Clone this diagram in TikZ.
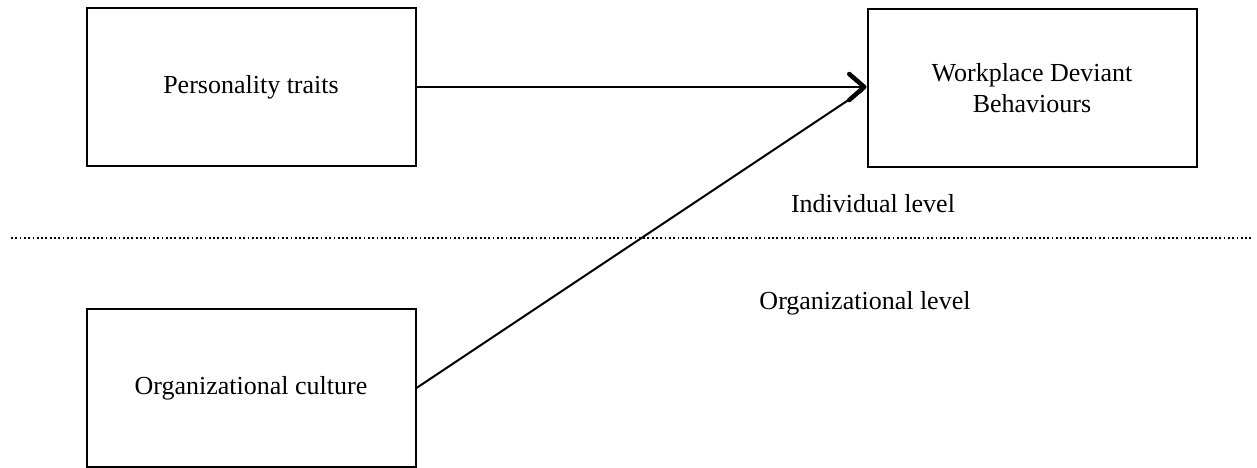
\documentclass[tikz,border=0pt]{standalone}
\usepackage{fontspec}
\setmainfont{Liberation Serif}
\usetikzlibrary{arrows.meta}
\begin{document}
\begin{tikzpicture}[x=1pt,y=-1pt,
  box/.style={draw,line width=2pt,rectangle,inner sep=0pt,minimum width=329pt,minimum height=158pt,align=center,font=\fontsize{26}{31.7}\selectfont},
  lbl/.style={inner sep=0pt,font=\fontsize{26}{31.7}\selectfont},
  conn/.style={line width=2pt},
  arr/.style={conn,-{Straight Barb[length=15pt,width=26pt,line width=4.5pt,round]}},
  levelline/.style={line width=1.8pt,dash pattern=on 1.8pt off 2.5pt}]
\useasboundingbox (0,0) rectangle (1257,468);
\node[box] (pt) at (251,87) {Personality traits};
\node[box] (wdb) at (1032,88) {Workplace Deviant\\Behaviours};
\node[box] (oc) at (251,388) {Organizational culture};
\node[lbl] (il) at (873,204) {Individual level};
\node[lbl] (ol) at (865,303) {Organizational level};
\coordinate (dl) at (11,238);
\coordinate (dr) at (1252,238);
\draw[levelline] (dl) -- (dr);
\draw[conn,shorten >=5pt] (oc.east) -- (wdb.west);
\draw[arr] (pt.east) -- (pt.east -| wdb.west);
\end{tikzpicture}
\end{document}
